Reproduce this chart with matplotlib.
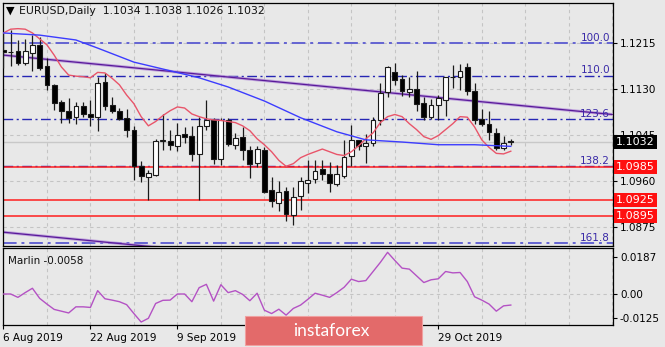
import matplotlib
matplotlib.use("Agg")
import matplotlib.pyplot as plt
from matplotlib.patches import Rectangle, FancyBboxPatch
from matplotlib.transforms import blended_transform_factory

W, H = 665, 347
BG = "#e8e8e8"

# daily EURUSD bars, 6 Aug 2019 .. 12 Nov 2019
opens = [1.1203, 1.1199, 1.1200, 1.1178, 1.1197, 1.1212, 1.1172, 1.1138, 1.1107, 1.1090,
         1.1078, 1.1098, 1.1084, 1.1078, 1.1143, 1.1101, 1.1089, 1.1076, 1.1055, 1.0987,
         1.0967, 1.0971, 1.1034, 1.1033, 1.1025, 1.1047, 1.1044, 1.1009, 1.1062, 1.1073,
         1.1000, 1.1073, 1.1027, 1.1041, 1.1017, 1.0993, 1.1018, 1.0943, 1.0919, 1.0941,
         1.0896, 1.0932, 1.0957, 1.0964, 1.0982, 1.0972, 1.0955, 1.0970, 1.1006, 1.1035,
         1.1025, 1.1031, 1.1072, 1.1124, 1.1161, 1.1148, 1.1124, 1.1130, 1.1105, 1.1079,
         1.1101, 1.1110, 1.1153, 1.1152, 1.1171, 1.1126, 1.1075, 1.1066, 1.1049, 1.1021,
         1.1034]
highs = [1.1234, 1.1240, 1.1221, 1.1222, 1.1230, 1.1227, 1.1188, 1.1140, 1.1110, 1.1114,
         1.1107, 1.1107, 1.1110, 1.1153, 1.1160, 1.1116, 1.1095, 1.1094, 1.1062, 1.0996,
         1.0981, 1.1038, 1.1084, 1.1055, 1.1068, 1.1060, 1.1061, 1.1079, 1.1110, 1.1077,
         1.1077, 1.1077, 1.1049, 1.1060, 1.1025, 1.1025, 1.1022, 1.0968, 1.0959, 1.0948,
         1.0948, 1.0968, 1.0999, 1.0999, 1.0999, 1.0995, 1.0990, 1.1035, 1.1064, 1.1036,
         1.1046, 1.1079, 1.1141, 1.1172, 1.1179, 1.1156, 1.1152, 1.1163, 1.1116, 1.1112,
         1.1119, 1.1153, 1.1175, 1.1177, 1.1178, 1.1141, 1.1093, 1.1089, 1.1058, 1.1043,
         1.1038]
lows = [1.1169, 1.1172, 1.1175, 1.1175, 1.1163, 1.1166, 1.1129, 1.1092, 1.1068, 1.1068,
        1.1066, 1.1079, 1.1062, 1.1052, 1.1092, 1.1086, 1.1073, 1.1042, 1.0961, 1.0958,
        1.0925, 1.0969, 1.1017, 1.1018, 1.1015, 1.1031, 1.0996, 1.0925, 1.1055, 1.0992,
        1.0989, 1.1024, 1.1020, 1.0999, 1.0966, 1.0986, 1.0937, 1.0911, 1.0904, 1.0885,
        1.0879, 1.0907, 1.0938, 1.0957, 1.0962, 1.0939, 1.0950, 1.0965, 1.0987, 1.1018,
        1.0993, 1.1025, 1.1064, 1.1115, 1.1138, 1.1118, 1.1115, 1.1090, 1.1073, 1.1075,
        1.1073, 1.1081, 1.1132, 1.1129, 1.1120, 1.1065, 1.1062, 1.1036, 1.1017, 1.1017,
        1.1026]
closes = [1.1199, 1.1198, 1.1178, 1.1200, 1.1212, 1.1169, 1.1138, 1.1105, 1.1089, 1.1076,
          1.1099, 1.1083, 1.1078, 1.1142, 1.1099, 1.1089, 1.1075, 1.1055, 1.0988, 1.0969,
          1.0975, 1.1034, 1.1036, 1.1027, 1.1045, 1.1041, 1.1009, 1.1062, 1.1073, 1.1001,
          1.1073, 1.1029, 1.1039, 1.1017, 1.0992, 1.1019, 1.0939, 1.0922, 1.0939, 1.0899,
          1.0930, 1.0959, 1.0962, 1.0979, 1.0972, 1.0956, 1.0972, 1.1005, 1.1036, 1.1024,
          1.1031, 1.1072, 1.1122, 1.1171, 1.1147, 1.1126, 1.1130, 1.1103, 1.1079, 1.1101,
          1.1113, 1.1152, 1.1152, 1.1164, 1.1126, 1.1073, 1.1066, 1.1050, 1.1021, 1.1031,
          1.1032]

# fast moving average (red), one value per bar
ma_fast = [1.1234, 1.1241, 1.1242, 1.1241, 1.1234, 1.1223, 1.1212, 1.1193, 1.1171, 1.1156,
           1.1154, 1.1153, 1.1151, 1.1161, 1.1160, 1.1150, 1.1138, 1.1119, 1.1103, 1.1079,
           1.1062, 1.1070, 1.1081, 1.1090, 1.1097, 1.1095, 1.1084, 1.1079, 1.1075, 1.1073,
           1.1072, 1.1070, 1.1068, 1.1062, 1.1053, 1.1038, 1.1027, 1.1014, 1.0998, 1.0987,
           1.0992, 1.1003, 1.1009, 1.1014, 1.1019, 1.1014, 1.1009, 1.1007, 1.1014, 1.1025,
           1.1038, 1.1049, 1.1068, 1.1079, 1.1083, 1.1079, 1.1066, 1.1055, 1.1042, 1.1037,
           1.1044, 1.1055, 1.1066, 1.1079, 1.1078, 1.1060, 1.1036, 1.1022, 1.1011, 1.1010,
           1.1015]
# slow moving average (blue), sampled bars
ma_slow_idx = [0, 5, 10, 13, 18, 23, 27, 31, 36, 41, 46, 50, 55, 60, 65, 70]
ma_slow = [1.1234, 1.1230, 1.1221, 1.1206, 1.1180, 1.1164, 1.1151, 1.1134, 1.1108,
           1.1077, 1.1051, 1.1036, 1.1032, 1.1027, 1.1027, 1.1024]

# Marlin oscillator
marlin = [-0.0002, -0.0002, -0.0019, 0.0005, 0.0027, -0.0024, -0.0053, -0.0080, -0.0089, -0.0098,
          -0.0067, -0.0067, -0.0070, 0.0015, -0.0026, -0.0033, -0.0041, -0.0056, -0.0101, -0.0144,
          -0.0125, -0.0050, -0.0034, -0.0033, -0.0002, -0.0002, -0.0041, 0.0030, 0.0047, -0.0038,
          0.0045, 0.0005, 0.0015, -0.0004, -0.0036, 0.0002, -0.0084, -0.0101, -0.0079, -0.0109,
          -0.0075, -0.0058, -0.0029, 0.0002, -0.0008, -0.0019, 0.0005, 0.0032, 0.0073, 0.0061,
          0.0066, 0.0112, 0.0158, 0.0209, 0.0168, 0.0129, 0.0124, 0.0090, 0.0056, 0.0070,
          0.0075, 0.0112, 0.0105, 0.0107, 0.0061, -0.0016, -0.0033, -0.0053, -0.0089, -0.0062,
          -0.0058]

fib_levels = ["100.0", "110.0", "123.6", "138.2", "161.8"]
fib_prices = [1.1215, 1.1155, 1.1074, 1.0987, 1.0845]
support_prices = [1.0985, 1.0925, 1.0895]
last_price = 1.1032

# channel lines: (bar, price) anchors
trend_upper = [(0, 1.1193), (84, 1.1083)]
trend_lower = [(0, 1.0865), (84, 1.0755)]

price_ticks = [1.1215, 1.1130, 1.1045, 1.0960, 1.0875]
osc_ticks = [0.0187, 0.0, -0.0125]
osc_tick_labels = ["0.0187", "0.00", "-0.0125"]
# 25 Sep and 11 Oct sit under the badge
date_idx = [0, 12, 24, 36, 48, 60]
date_labels = ["6 Aug 2019", "22 Aug 2019", "9 Sep 2019", "", "", "29 Oct 2019"]

FS = 7.5
plt.rcParams["font.family"] = ["DejaVu Sans"]

fig = plt.figure(figsize=(W / 100, H / 100), dpi=100, facecolor=BG)


def px_axes(x0, y0, x1, y1):
    return fig.add_axes([x0 / W, 1 - y1 / H, (x1 - x0) / W, (y1 - y0) / H])


ax = px_axes(2.7, 3, 613, 245.7)
sub = px_axes(2.7, 248, 613, 325)
XMAX = 84.1

for a in (ax, sub):
    a.set_facecolor(BG)
    a.set_xlim(-0.1, XMAX)
    for s in a.spines.values():
        s.set_color("black")
        s.set_linewidth(0.9)
    for g in range(0, 85, 6):
        a.axvline(g, color="#c4c4c4", lw=0.8, ls=(0, (3, 3)), zorder=0)

ax.set_ylim(1.0840, 1.12895)
sub.set_ylim(-0.0159, 0.0231)

# grid on the price levels
for p in price_ticks:
    ax.axhline(p, color="#c4c4c4", lw=0.8, ls=(0, (3, 3)), zorder=0)
sub.axhline(0, color="#c4c4c4", lw=0.8, ls=(0, (3, 3)), zorder=0)

# bid line
ax.axhline(last_price, color="#c8c8c8", lw=1.0, zorder=1)

# fibo levels
for lvl, p in zip(fib_levels, fib_prices):
    outer = lvl in ("100.0", "161.8")
    ax.axhline(p, color="#6464d2" if outer else "#2626b4", lw=1.4 if outer else 1.0,
               ls=(0, (7, 2.5, 1.5, 2.5)), zorder=1)
    ax.annotate(lvl, xy=(XMAX - 0.4, p), xytext=(0, 3.8), textcoords="offset points",
                ha="right", va="center", fontsize=FS, color="#3a2aa8", zorder=6)

# support lines
for p in support_prices:
    ax.axhline(p, color="#ff1f1f", lw=1.1, zorder=2)

# channel
for (i0, p0), (i1, p1) in (trend_upper, trend_lower):
    ax.plot([i0 - 0.4, i1], [p0 + (p0 - p1) / (i1 - i0) * 0.4, p1], color="#b08ad8",
            lw=2.2, alpha=0.7, zorder=2, solid_capstyle="butt")
    ax.plot([i0 - 0.4, i1], [p0 + (p0 - p1) / (i1 - i0) * 0.4, p1], color="#5a1a9a",
            lw=0.9, zorder=2)

# candles
bw = 0.66
for i, (o, h, l, c) in enumerate(zip(opens, highs, lows, closes)):
    ax.plot([i, i], [l, h], color="#1a1a1a", lw=0.9, zorder=3, solid_capstyle="butt")
    lo, hi = min(o, c), max(o, c)
    ax.add_patch(Rectangle((i - bw / 2, lo), bw, max(hi - lo, 0.00006),
                           facecolor="white" if c >= o else "black",
                           edgecolor="#1a1a1a", lw=0.8, zorder=4))

# moving averages
ax.plot(range(len(ma_fast)), ma_fast, color="#e8556a", lw=1.0, zorder=5)
ax.plot(ma_slow_idx, ma_slow, color="#3c3cff", lw=1.0, zorder=5)

# right price scale
ax.yaxis.tick_right()
ax.set_yticks(price_ticks)
ax.set_yticklabels([f"{p:.4f}" for p in price_ticks])
ax.tick_params(axis="y", length=3, width=0.8, pad=2, labelsize=FS, colors="black")
ax.set_xticks([])

yt = blended_transform_factory(ax.transAxes, ax.transData)
ax.text(1.005, last_price, f"{last_price:.4f}", transform=yt, ha="left", va="center",
        fontsize=FS + 0.5, color="white", zorder=10, clip_on=False,
        bbox=dict(boxstyle="square,pad=0.18", facecolor="black", edgecolor="none"))
for p in support_prices:
    ax.text(1.005, p, f"{p:.4f}", transform=yt, ha="left", va="center",
            fontsize=FS + 0.5, color="white", zorder=10, clip_on=False,
            bbox=dict(boxstyle="square,pad=0.18", facecolor="#ff1010", edgecolor="none"))

# header
fig.text(6 / W, 1 - 10.5 / H, "\u25bc", fontsize=8, ha="left", va="center", color="black")
fig.text(19 / W, 1 - 10.5 / H, "EURUSD,Daily  1.1034 1.1038 1.1026 1.1032",
         fontsize=FS + 0.3, ha="left", va="center", color="#111111")

# oscillator window
sub.plot(range(len(marlin)), marlin, color="#b452c4", lw=1.0, zorder=3)
sub.text(0.008, 0.83, f"Marlin {marlin[-1]:.4f}", transform=sub.transAxes, fontsize=FS,
         ha="left", va="center", color="#111111")
sub.yaxis.tick_right()
sub.set_yticks(osc_ticks)
sub.set_yticklabels(osc_tick_labels)
sub.tick_params(axis="y", length=3, width=0.8, pad=2, labelsize=FS, colors="black")
sub.set_xticks(date_idx)
sub.set_xticklabels(date_labels, ha="left")
sub.tick_params(axis="x", length=3, width=0.8, pad=3, labelsize=FS, colors="black")

# broker badge
fig.add_artist(FancyBboxPatch((245 / W, 1 - 345 / H), 177 / W, 29 / H,
                              boxstyle="square,pad=0", transform=fig.transFigure,
                              facecolor="#e36a6a", edgecolor="#f0a0a0", lw=0.8, zorder=20))
fig.text(331 / W, 1 - 331 / H, "instaforex", fontsize=12.5, color="white",
         ha="center", va="center", zorder=21, family=["Lato", "DejaVu Sans"])

fig.savefig("out.png", dpi=100, facecolor=BG)
